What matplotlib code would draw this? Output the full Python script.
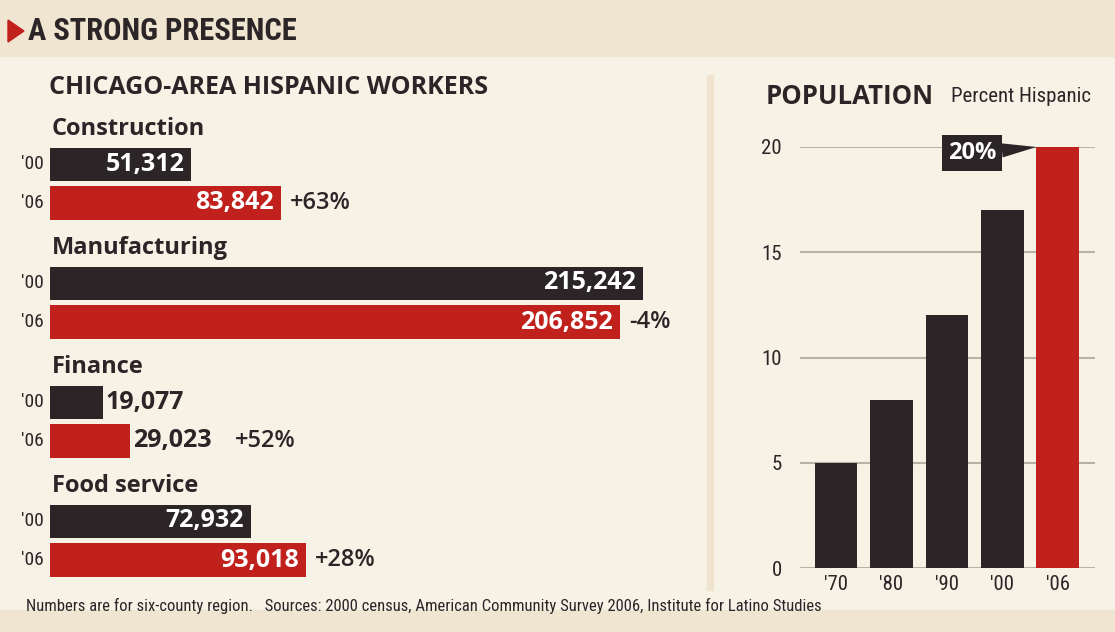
import numpy as np
import matplotlib.pyplot as plt
from matplotlib.patches import Rectangle, Polygon

# data
sectors = ['Construction', 'Manufacturing', 'Finance', 'Food service']
workers_00 = [51312, 215242, 19077, 72932]
workers_06 = [83842, 206852, 29023, 93018]
changes = ['+63%', '-4%', '+52%', '+28%']
pop_years = ["'70", "'80", "'90", "'00", "'06"]
pop_pct = [5, 8, 12, 17, 20]

dark = '#2b2527'
red = '#c0211c'
bg = '#f6f2e6'
band = '#efe5d1'
narrow = ['Liberation Sans Narrow', 'Roboto Condensed', 'DejaVu Sans Condensed', 'Lato']
sans = ['Open Sans', 'DejaVu Sans']

W, H = 1115, 632
fig = plt.figure(figsize=(W / 100, H / 100), dpi=100)
fig.patch.set_facecolor(bg)

def fx(px):
    return px / W

def fy(py):
    return 1 - py / H

# header / footer bands and divider
fig.patches.append(Rectangle((0, fy(56)), 1, 56 / H, transform=fig.transFigure, color=band, zorder=0))
fig.patches.append(Rectangle((0, 0), 1, 22 / H, transform=fig.transFigure, color=band, zorder=0))
fig.patches.append(Rectangle((fx(707), fy(590)), 6 / W, 515 / H, transform=fig.transFigure, color='#f1e4cf', zorder=0))
fig.patches.append(Polygon([[fx(8), fy(20)], [fx(8), fy(42)], [fx(24), fy(31)]], closed=True,
                           transform=fig.transFigure, color=red, zorder=1))
fig.text(fx(28), fy(31), 'A STRONG PRESENCE', fontsize=22, fontweight='bold', family=narrow,
         fontstretch='condensed', color=dark, va='center', ha='left')
fig.text(fx(49), fy(88), 'CHICAGO-AREA HISPANIC WORKERS', fontsize=18, fontweight='bold', family=sans,
         color=dark, va='center', ha='left')
fig.text(fx(766), fy(96), 'POPULATION', fontsize=18.5, fontweight='bold', family=sans,
         color=dark, va='center', ha='left')
fig.text(fx(951), fy(97), 'Percent Hispanic', fontsize=15, family=narrow, fontstretch='condensed',
         color=dark, va='center', ha='left')
fig.text(fx(26), fy(606), 'Numbers are for six-county region.   Sources: 2000 census, American Community Survey 2006, Institute for Latino Studies',
         fontsize=12, family=narrow, fontstretch='condensed', color=dark, va='center', ha='left')

# left: horizontal bars
px_per = 593 / 215242
ax = fig.add_axes([fx(50), fy(600), fx(650), 500 / H])
ax.set_xlim(0, 650 / px_per)
ax.set_ylim(600, 100)
ax.axis('off')
g = np.arange(len(sectors))
y00 = 164 + 119 * g
y06 = y00 + 39
ax.barh(y00, workers_00, height=33, color=dark)
ax.barh(y06, workers_06, height=34, color=red)
pad = 7 / px_per
for i in g:
    ax.text(2 / px_per, y00[i] - 35, sectors[i], fontsize=17, fontweight='bold', family=sans, color=dark,
            va='center', ha='left')
    ax.text(-29 / px_per, y00[i], "'00", fontsize=14, family=narrow, fontstretch='condensed', color=dark,
            va='center', ha='left', clip_on=False)
    ax.text(-29 / px_per, y06[i], "'06", fontsize=14, family=narrow, fontstretch='condensed', color=dark,
            va='center', ha='left', clip_on=False)
    for val, yy in ((workers_00[i], y00[i]), (workers_06[i], y06[i])):
        lab = f'{val:,}'
        if val > 40000:
            ax.text(val - pad, yy, lab, fontsize=18, fontweight='bold', family=sans, color='white',
                    va='center', ha='right')
        else:
            ax.text(val + 3 / px_per, yy, lab, fontsize=18, fontweight='bold', family=sans, color=dark,
                    va='center', ha='left')
    end06 = workers_06[i] + 9 / px_per
    if workers_06[i] < 40000:
        end06 = workers_06[i] + 105 / px_per
    ax.text(end06, y06[i], changes[i], fontsize=17, fontweight='semibold', family=sans, color=dark,
            va='center', ha='left')

# right: population column chart
ax2 = fig.add_axes([fx(800), fy(568), fx(295), 421 / H])
ax2.set_facecolor('none')
x = np.arange(len(pop_years))
colors = [dark] * (len(pop_pct) - 1) + [red]
ax2.bar(x, pop_pct, width=0.77, color=colors, zorder=3)
ax2.set_xlim(-0.65, 4.67)
ax2.set_ylim(0, 20)
ax2.set_yticks([0, 5, 10, 15, 20])
ax2.yaxis.grid(True, color='#b8b2a6', linewidth=1.5, zorder=0)
ax2.set_xticks(x)
ax2.set_xticklabels(pop_years)
for s in ax2.spines.values():
    s.set_visible(False)
ax2.tick_params(length=0, labelsize=15, colors=dark)
for lab in ax2.get_xticklabels() + ax2.get_yticklabels():
    lab.set_family(narrow)
    lab.set_fontstretch('condensed')
ax2.tick_params(axis='y', pad=13)
ax2.tick_params(axis='x', pad=5)
ax2.annotate(f'{pop_pct[-1]}%', xy=(x[-1] - 0.385, pop_pct[-1]), xytext=(x[-1] - 1.55, pop_pct[-1] - 0.3),
             fontsize=17, fontweight='bold', family=sans, color='white', va='center', ha='center',
             bbox=dict(boxstyle='square,pad=0.25', fc=dark, ec='none'),
             arrowprops=dict(arrowstyle='wedge,tail_width=0.6', fc=dark, ec='none', shrinkA=0, shrinkB=0),
             zorder=5)

fig.savefig('out.png', dpi=100, facecolor=bg)
